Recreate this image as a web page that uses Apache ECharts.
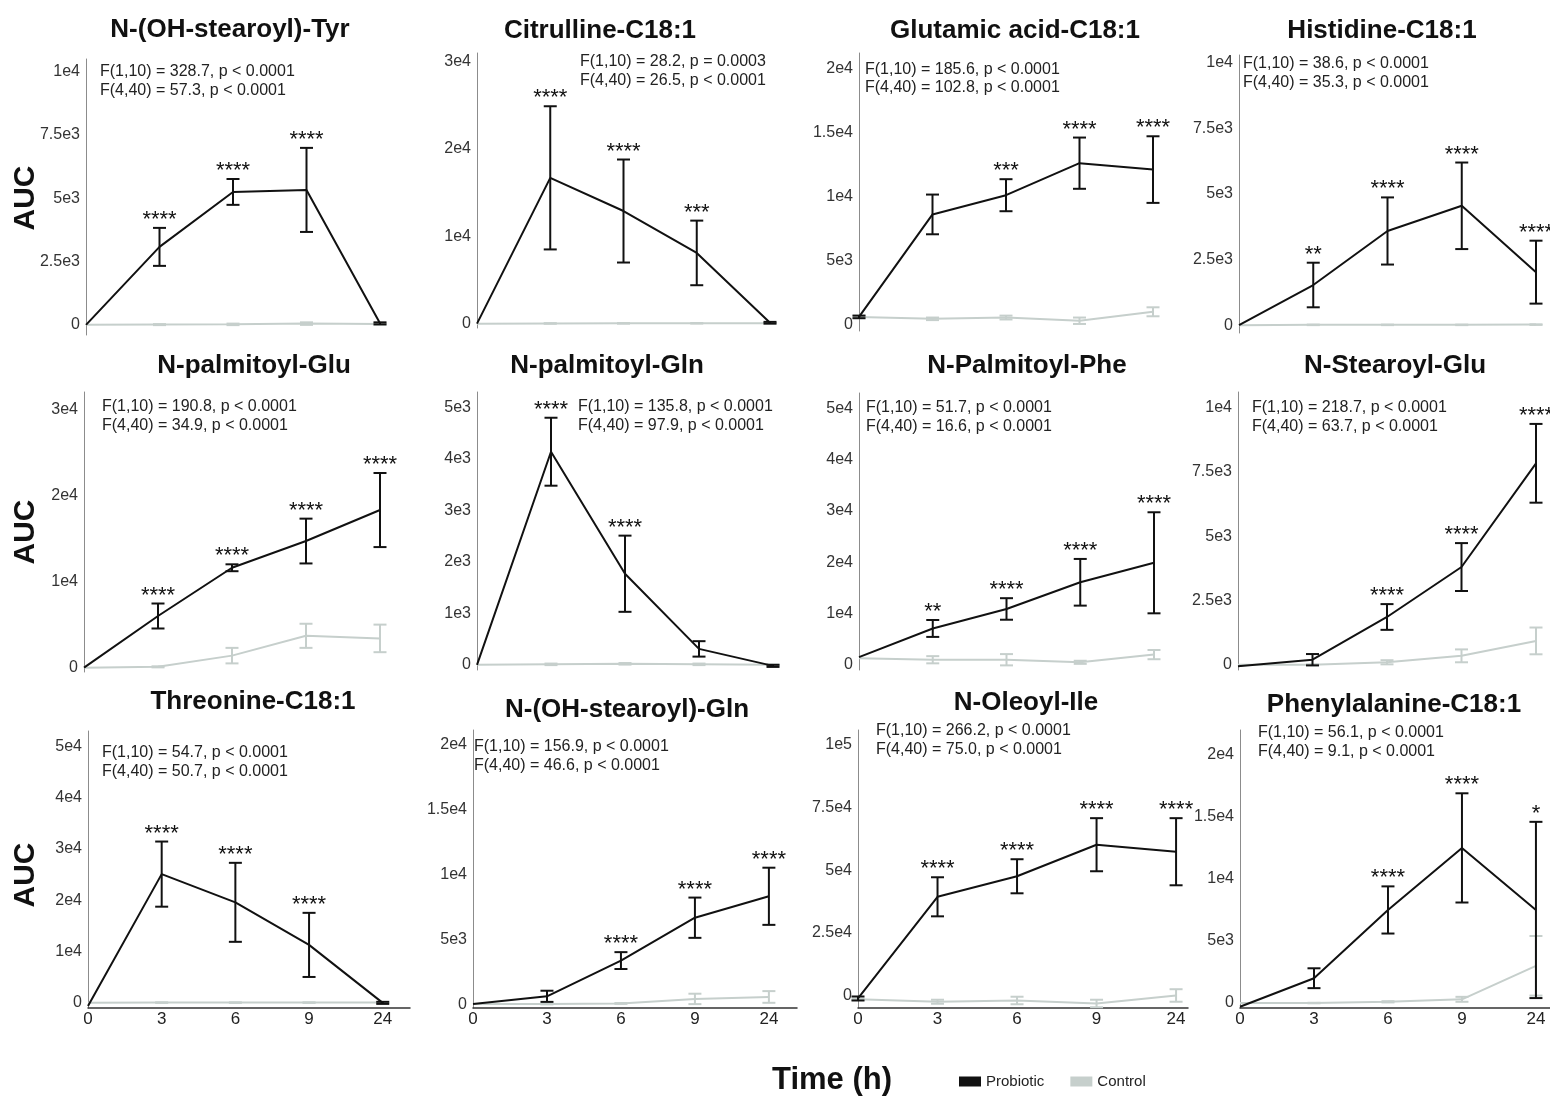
<!DOCTYPE html>
<html><head><meta charset="utf-8">
<script src="https://cdn.jsdelivr.net/npm/echarts@6/dist/echarts.min.js"></script>
<style>html,body{margin:0;padding:0;background:#fff}#c{width:1550px;height:1096px}</style>
</head><body><div id="c"></div>
<script>
// ---------- DATA ----------
const timeLabels = ['0', '3', '6', '9', '24'];
const seriesNames = ['Probiotic', 'Control'];

const p1_title = 'N-(OH-stearoyl)-Tyr';
const p1_stats = ['F(1,10) = 328.7, p < 0.0001', 'F(4,40) = 57.3, p < 0.0001'];
const p1_tickVals = [0, 2500, 5000, 7500, 10000];
const p1_tickLabels = ['0', '2.5e3', '5e3', '7.5e3', '1e4'];
const p1_pro_mean = [0, 3080, 5250, 5330, 60];
const p1_pro_sd = [0, 750, 510, 1660, 40];
const p1_ctl_mean = [0, 10, 20, 50, 30];
const p1_ctl_sd = [0, 20, 30, 50, 30];
const p1_stars = ['', '****', '****', '****', ''];

const p2_title = 'Citrulline-C18:1';
const p2_stats = ['F(1,10) = 28.2, p = 0.0003', 'F(4,40) = 26.5, p < 0.0001'];
const p2_tickVals = [0, 10000, 20000, 30000];
const p2_tickLabels = ['0', '1e4', '2e4', '3e4'];
const p2_pro_mean = [0, 16700, 12900, 8100, 100];
const p2_pro_sd = [0, 8200, 5900, 3700, 100];
const p2_ctl_mean = [0, 20, 30, 40, 50];
const p2_ctl_sd = [0, 30, 30, 30, 30];
const p2_stars = ['', '****', '****', '***', ''];

const p3_title = 'Glutamic acid-C18:1';
const p3_stats = ['F(1,10) = 185.6, p < 0.0001', 'F(4,40) = 102.8, p < 0.0001'];
const p3_tickVals = [0, 5000, 10000, 15000, 20000];
const p3_tickLabels = ['0', '5e3', '1e4', '1.5e4', '2e4'];
const p3_pro_mean = [600, 8600, 10100, 12600, 12100];
const p3_pro_sd = [100, 1550, 1250, 2000, 2600];
const p3_ctl_mean = [600, 450, 550, 300, 1000];
const p3_ctl_sd = [100, 100, 150, 250, 350];
const p3_stars = ['', '', '***', '****', '****'];

const p4_title = 'Histidine-C18:1';
const p4_stats = ['F(1,10) = 38.6, p < 0.0001', 'F(4,40) = 35.3, p < 0.0001'];
const p4_tickVals = [0, 2500, 5000, 7500, 10000];
const p4_tickLabels = ['0', '2.5e3', '5e3', '7.5e3', '1e4'];
const p4_pro_mean = [0, 1530, 3590, 4550, 2020];
const p4_pro_sd = [0, 850, 1280, 1650, 1200];
const p4_ctl_mean = [0, 10, 10, 10, 20];
const p4_ctl_sd = [0, 10, 10, 10, 10];
const p4_stars = ['', '**', '****', '****', '****'];

const p5_title = 'N-palmitoyl-Glu';
const p5_stats = ['F(1,10) = 190.8, p < 0.0001', 'F(4,40) = 34.9, p < 0.0001'];
const p5_tickVals = [0, 10000, 20000, 30000];
const p5_tickLabels = ['0', '1e4', '2e4', '3e4'];
const p5_pro_mean = [0, 6000, 11600, 14700, 18300];
const p5_pro_sd = [0, 1450, 400, 2600, 4300];
const p5_ctl_mean = [0, 100, 1400, 3700, 3400];
const p5_ctl_sd = [0, 60, 900, 1400, 1600];
const p5_stars = ['', '****', '****', '****', '****'];

const p6_title = 'N-palmitoyl-Gln';
const p6_stats = ['F(1,10) = 135.8, p < 0.0001', 'F(4,40) = 97.9, p < 0.0001'];
const p6_tickVals = [0, 1000, 2000, 3000, 4000, 5000];
const p6_tickLabels = ['0', '1e3', '2e3', '3e3', '4e3', '5e3'];
const p6_pro_mean = [0, 4140, 1770, 310, -20];
const p6_pro_sd = [0, 660, 740, 150, 20];
const p6_ctl_mean = [0, 10, 20, 10, 0];
const p6_ctl_sd = [0, 15, 15, 15, 10];
const p6_stars = ['', '****', '****', '', ''];

const p7_title = 'N-Palmitoyl-Phe';
const p7_stats = ['F(1,10) = 51.7, p < 0.0001', 'F(4,40) = 16.6, p < 0.0001'];
const p7_tickVals = [0, 10000, 20000, 30000, 40000, 50000];
const p7_tickLabels = ['0', '1e4', '2e4', '3e4', '4e4', '5e4'];
const p7_pro_mean = [1500, 7100, 10900, 16100, 19900];
const p7_pro_sd = [0, 1650, 2100, 4550, 9850];
const p7_ctl_mean = [1300, 1000, 1000, 500, 2000];
const p7_ctl_sd = [0, 700, 1100, 300, 900];
const p7_stars = ['', '**', '****', '****', '****'];

const p8_title = 'N-Stearoyl-Glu';
const p8_stats = ['F(1,10) = 218.7, p < 0.0001', 'F(4,40) = 63.7, p < 0.0001'];
const p8_tickVals = [0, 2500, 5000, 7500, 10000];
const p8_tickLabels = ['0', '2.5e3', '5e3', '7.5e3', '1e4'];
const p8_pro_mean = [-50, 200, 1860, 3800, 7830];
const p8_pro_sd = [0, 220, 500, 930, 1530];
const p8_ctl_mean = [0, 0, 100, 350, 930];
const p8_ctl_sd = [0, 20, 80, 250, 520];
const p8_stars = ['', '', '****', '****', '****'];

const p9_title = 'Threonine-C18:1';
const p9_stats = ['F(1,10) = 54.7, p < 0.0001', 'F(4,40) = 50.7, p < 0.0001'];
const p9_tickVals = [0, 10000, 20000, 30000, 40000, 50000];
const p9_tickLabels = ['0', '1e4', '2e4', '3e4', '4e4', '5e4'];
const p9_pro_mean = [-600, 25100, 19600, 11300, 0];
const p9_pro_sd = [0, 6350, 7700, 6250, 200];
const p9_ctl_mean = [0, 50, 50, 50, 50];
const p9_ctl_sd = [0, 50, 50, 50, 50];
const p9_stars = ['', '****', '****', '****', ''];

const p10_title = 'N-(OH-stearoyl)-Gln';
const p10_stats = ['F(1,10) = 156.9, p < 0.0001', 'F(4,40) = 46.6, p < 0.0001'];
const p10_tickVals = [0, 5000, 10000, 15000, 20000];
const p10_tickLabels = ['0', '5e3', '1e4', '1.5e4', '2e4'];
const p10_pro_mean = [0, 600, 3350, 6650, 8300];
const p10_pro_sd = [0, 430, 650, 1550, 2200];
const p10_ctl_mean = [0, 0, 50, 400, 550];
const p10_ctl_sd = [0, 20, 30, 400, 450];
const p10_stars = ['', '', '****', '****', '****'];

const p11_title = 'N-Oleoyl-Ile';
const p11_stats = ['F(1,10) = 266.2, p < 0.0001', 'F(4,40) = 75.0, p < 0.0001'];
const p11_tickVals = [0, 25000, 50000, 75000, 100000];
const p11_tickLabels = ['0', '2.5e4', '5e4', '7.5e4', '1e5'];
const p11_pro_mean = [-1200, 39400, 47600, 60200, 57400];
const p11_pro_sd = [800, 7800, 6800, 10600, 13400];
const p11_ctl_mean = [-1500, -2500, -2000, -3200, 0];
const p11_ctl_sd = [300, 800, 1500, 1500, 2500];
const p11_stars = ['', '****', '****', '****', '****'];

const p12_title = 'Phenylalanine-C18:1';
const p12_stats = ['F(1,10) = 56.1, p < 0.0001', 'F(4,40) = 9.1, p < 0.0001'];
const p12_tickVals = [0, 5000, 10000, 15000, 20000];
const p12_tickLabels = ['0', '5e3', '1e4', '1.5e4', '2e4'];
const p12_pro_mean = [-300, 2000, 7500, 12500, 7500];
const p12_pro_sd = [0, 800, 1900, 4400, 7100];
const p12_ctl_mean = [0, 0, 100, 300, 3000];
const p12_ctl_sd = [0, 20, 50, 200, 2400];
const p12_stars = ['', '', '****', '****', '*'];

// ---------- LAYOUT (positions / styles only) ----------
const layout = [
  {left: 86,   top: 59,  width: 294, height: 276, ymin: -400,  ymax: 10500,  yint: 100,  xmax: 4,    xshow: false, tx: 230,  ty: 30,  sx: 100,  sy: [72, 91]},
  {left: 477,  top: 53,  width: 293, height: 275, ymin: -500,  ymax: 31000,  yint: 500,  xmax: 4,    xshow: false, tx: 600,  ty: 31,  sx: 580,  sy: [62, 81]},
  {left: 859,  top: 53,  width: 294, height: 278, ymin: -500,  ymax: 21200,  yint: 100,  xmax: 4,    xshow: false, tx: 1015, ty: 31,  sx: 865,  sy: [70, 88]},
  {left: 1239, top: 55,  width: 297, height: 278, ymin: -300,  ymax: 10300,  yint: 100,  xmax: 4,    xshow: false, tx: 1382, ty: 31,  sx: 1243, sy: [64, 83]},
  {left: 84,   top: 392, width: 296, height: 280, ymin: -500,  ymax: 32000,  yint: 500,  xmax: 4,    xshow: false, tx: 254,  ty: 366, sx: 102,  sy: [407, 426]},
  {left: 477,  top: 392, width: 296, height: 278, ymin: -100,  ymax: 5300,   yint: 100,  xmax: 4,    xshow: false, tx: 607,  ty: 366, sx: 578,  sy: [407, 426]},
  {left: 859,  top: 393, width: 295, height: 277, ymin: -1000, ymax: 53000,  yint: 1000, xmax: 4,    xshow: false, tx: 1027, ty: 366, sx: 866,  sy: [408, 427]},
  {left: 1238, top: 392, width: 298, height: 278, ymin: -200,  ymax: 10600,  yint: 100,  xmax: 4,    xshow: false, tx: 1395, ty: 366, sx: 1252, sy: [408, 427]},
  {left: 88,   top: 731, width: 322, height: 277, ymin: -1000, ymax: 53000,  yint: 1000, xmax: 4.37, xshow: true,  tx: 253,  ty: 702, sx: 102,  sy: [753, 772]},
  {left: 473,  top: 730, width: 324, height: 278, ymin: -300,  ymax: 21100,  yint: 100,  xmax: 4.38, xshow: true,  tx: 627,  ty: 710, sx: 474,  sy: [747, 766]},
  {left: 858,  top: 730, width: 330, height: 278, ymin: -5000, ymax: 106000, yint: 1000, xmax: 4.15, xshow: true,  tx: 1026, ty: 703, sx: 876,  sy: [731, 750]},
  {left: 1240, top: 730, width: 310, height: 278, ymin: -400,  ymax: 22000,  yint: 100,  xmax: 4.19, xshow: true,  tx: 1394, ty: 705, sx: 1258, sy: [733, 752]}
];

const panels = [
  {title: p1_title, stats: p1_stats, tv: p1_tickVals, tl: p1_tickLabels, pm: p1_pro_mean, ps: p1_pro_sd, cm: p1_ctl_mean, cs: p1_ctl_sd, st: p1_stars},
  {title: p2_title, stats: p2_stats, tv: p2_tickVals, tl: p2_tickLabels, pm: p2_pro_mean, ps: p2_pro_sd, cm: p2_ctl_mean, cs: p2_ctl_sd, st: p2_stars},
  {title: p3_title, stats: p3_stats, tv: p3_tickVals, tl: p3_tickLabels, pm: p3_pro_mean, ps: p3_pro_sd, cm: p3_ctl_mean, cs: p3_ctl_sd, st: p3_stars},
  {title: p4_title, stats: p4_stats, tv: p4_tickVals, tl: p4_tickLabels, pm: p4_pro_mean, ps: p4_pro_sd, cm: p4_ctl_mean, cs: p4_ctl_sd, st: p4_stars},
  {title: p5_title, stats: p5_stats, tv: p5_tickVals, tl: p5_tickLabels, pm: p5_pro_mean, ps: p5_pro_sd, cm: p5_ctl_mean, cs: p5_ctl_sd, st: p5_stars},
  {title: p6_title, stats: p6_stats, tv: p6_tickVals, tl: p6_tickLabels, pm: p6_pro_mean, ps: p6_pro_sd, cm: p6_ctl_mean, cs: p6_ctl_sd, st: p6_stars},
  {title: p7_title, stats: p7_stats, tv: p7_tickVals, tl: p7_tickLabels, pm: p7_pro_mean, ps: p7_pro_sd, cm: p7_ctl_mean, cs: p7_ctl_sd, st: p7_stars},
  {title: p8_title, stats: p8_stats, tv: p8_tickVals, tl: p8_tickLabels, pm: p8_pro_mean, ps: p8_pro_sd, cm: p8_ctl_mean, cs: p8_ctl_sd, st: p8_stars},
  {title: p9_title, stats: p9_stats, tv: p9_tickVals, tl: p9_tickLabels, pm: p9_pro_mean, ps: p9_pro_sd, cm: p9_ctl_mean, cs: p9_ctl_sd, st: p9_stars},
  {title: p10_title, stats: p10_stats, tv: p10_tickVals, tl: p10_tickLabels, pm: p10_pro_mean, ps: p10_pro_sd, cm: p10_ctl_mean, cs: p10_ctl_sd, st: p10_stars},
  {title: p11_title, stats: p11_stats, tv: p11_tickVals, tl: p11_tickLabels, pm: p11_pro_mean, ps: p11_pro_sd, cm: p11_ctl_mean, cs: p11_ctl_sd, st: p11_stars},
  {title: p12_title, stats: p12_stats, tv: p12_tickVals, tl: p12_tickLabels, pm: p12_pro_mean, ps: p12_pro_sd, cm: p12_ctl_mean, cs: p12_ctl_sd, st: p12_stars}
];

const FONT = '"Liberation Sans", Arial, sans-serif';
const PRO_COLOR = '#111111';
const CTL_COLOR = '#c6cfcc';

function errSeries(i, means, sds, stars, color, z) {
  return {
    type: 'custom', xAxisIndex: i, yAxisIndex: i, z: z, silent: true, animation: false,
    data: means.map((m, k) => [k, m, sds[k]]),
    encode: {x: 0, y: 1},
    renderItem: function (params, api) {
      const k = api.value(0), m = api.value(1), s = api.value(2);
      const t = api.coord([k, m + s]), b = api.coord([k, m - s]);
      const h = 6.5;
      const st = {stroke: color, lineWidth: 2};
      const ch = [];
      if (s > 0) {
        ch.push({type: 'line', shape: {x1: t[0], y1: t[1], x2: b[0], y2: b[1]}, style: st});
        ch.push({type: 'line', shape: {x1: t[0] - h, y1: t[1], x2: t[0] + h, y2: t[1]}, style: st});
        ch.push({type: 'line', shape: {x1: b[0] - h, y1: b[1], x2: b[0] + h, y2: b[1]}, style: st});
      }
      const star = stars ? stars[params.dataIndex] : '';
      if (star) {
        ch.push({type: 'text', x: t[0], y: t[1] - 8,
          style: {text: star, font: '22px ' + FONT, fill: '#111', align: 'center', verticalAlign: 'middle',
                  textAlign: 'center', textVerticalAlign: 'middle'}});
      }
      return {type: 'group', children: ch};
    }
  };
}

const grids = [], xAxes = [], yAxes = [], series = [], graphics = [];
panels.forEach((p, i) => {
  const l = layout[i];
  grids.push({left: l.left, top: l.top, width: l.width, height: l.height, containLabel: false, outerBoundsMode: 'none'});
  xAxes.push({
    gridIndex: i, type: 'value', min: 0, max: l.xmax, interval: 1, show: l.xshow,
    axisLine: {show: l.xshow, onZero: false, lineStyle: {color: '#333', width: 1.5}},
    axisTick: {show: false}, splitLine: {show: false},
    axisLabel: {show: l.xshow, fontSize: 17, color: '#222', margin: 3, fontFamily: FONT,
      formatter: v => (Number.isInteger(v) && timeLabels[v] !== undefined) ? timeLabels[v] : ''}
  });
  yAxes.push({
    gridIndex: i, type: 'value', min: l.ymin, max: l.ymax, interval: l.yint,
    axisLine: {show: true, onZero: false, lineStyle: {color: '#8c8c8c', width: 1}},
    axisTick: {show: false}, splitLine: {show: false},
    axisLabel: {fontSize: 16, color: '#333', margin: 6, fontFamily: FONT,
      formatter: v => { const j = p.tv.findIndex(t => Math.abs(t - v) < 1e-6); return j >= 0 ? p.tl[j] : ''; }}
  });
  series.push({type: 'line', name: seriesNames[1], xAxisIndex: i, yAxisIndex: i, data: p.cm.map((m, k) => [k, m]),
    symbol: 'none', lineStyle: {color: CTL_COLOR, width: 2}, itemStyle: {color: CTL_COLOR}, z: 2, animation: false, silent: true});
  series.push(errSeries(i, p.cm, p.cs, null, CTL_COLOR, 2));
  series.push({type: 'line', name: seriesNames[0], xAxisIndex: i, yAxisIndex: i, data: p.pm.map((m, k) => [k, m]),
    symbol: 'none', lineStyle: {color: PRO_COLOR, width: 2}, itemStyle: {color: PRO_COLOR}, z: 4, animation: false, silent: true});
  series.push(errSeries(i, p.pm, p.ps, p.st, PRO_COLOR, 4));

  graphics.push({type: 'text', x: l.tx, y: l.ty, z: 10,
    style: {text: p.title, font: 'bold 26px ' + FONT, fill: '#111', align: 'center', verticalAlign: 'middle', textAlign: 'center', textVerticalAlign: 'middle'}});
  p.stats.forEach((s, k) => {
    graphics.push({type: 'text', x: l.sx, y: l.sy[k], z: 10,
      style: {text: s, font: '16px ' + FONT, fill: '#222', align: 'left', verticalAlign: 'middle', textAlign: 'left', textVerticalAlign: 'middle'}});
  });
});

[198, 532, 875].forEach(y => {
  graphics.push({type: 'text', x: 26, y: y, rotation: Math.PI / 2, z: 10,
    style: {text: 'AUC', font: 'bold 30px ' + FONT, fill: '#111', align: 'center', verticalAlign: 'middle', textAlign: 'center', textVerticalAlign: 'middle'}});
});
graphics.push({type: 'text', x: 832, y: 1080, z: 10,
  style: {text: 'Time (h)', font: 'bold 31px ' + FONT, fill: '#111', align: 'center', verticalAlign: 'middle', textAlign: 'center', textVerticalAlign: 'middle'}});

const chart = echarts.init(document.getElementById('c'), null, {renderer: 'canvas', width: 1550, height: 1096});
chart.setOption({
  animation: false,
  backgroundColor: '#ffffff',
  textStyle: {fontFamily: FONT},
  grid: grids, xAxis: xAxes, yAxis: yAxes, series: series,
  legend: {data: seriesNames, left: 954, top: 1069, icon: 'rect', itemWidth: 22, itemHeight: 10, itemGap: 26,
    selectedMode: false, textStyle: {fontSize: 15, color: '#222', fontFamily: FONT}},
  graphic: {elements: graphics}
});
</script>
</body></html>
